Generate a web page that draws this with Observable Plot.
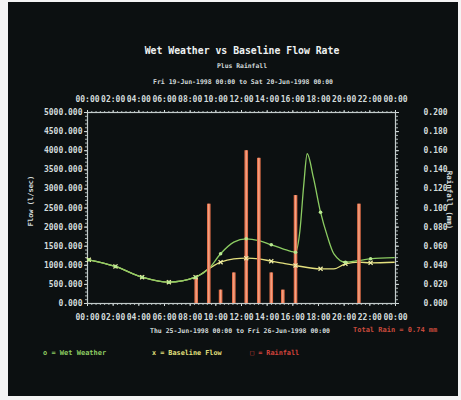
<!DOCTYPE html>
<html>
<head>
<meta charset="utf-8">
<script src="https://cdn.jsdelivr.net/npm/d3@7"></script>
<script src="https://cdn.jsdelivr.net/npm/@observablehq/plot@0.6"></script>
<style>
  html, body { margin: 0; padding: 0; background: #f4f4f4; width: 461px; height: 400px; overflow: hidden; }
  #bg { position: absolute; left: 8px; top: 2px; right: 3px; bottom: 4px; background: #0c1011; }
  #chart { position: absolute; left: 0; top: 0; }
</style>
</head>
<body>
<div id="bg"></div>
<div id="chart"></div>
<script>
// ---- data (hours since 00:00) ----
const wetHours  = [0.1, 2.18, 4.26, 6.34, 8.42, 9.45, 10.37, 11.4, 12.37, 13.35, 14.32, 15.22, 16.21, 16.55, 16.85, 17.12, 17.6, 18.16, 18.7, 19.2, 20.1, 21.15, 22.06, 23.9];
const wetFlow   = [1144, 969, 688, 558, 688, 908, 1301, 1605, 1694, 1649, 1537, 1432, 1343, 1900, 3100, 3920, 3300, 2390, 1750, 1301, 1081, 1126, 1170, 1200];
const baseHours = [0.1, 2.18, 4.26, 6.34, 8.42, 9.45, 10.37, 11.4, 12.37, 13.35, 14.32, 15.22, 16.21, 18.16, 19.2, 20.1, 21.15, 22.06, 23.9];
const baseFlow  = [1144, 969, 688, 558, 688, 908, 1081, 1170, 1186, 1170, 1107, 1055, 995, 908, 908, 1039, 1081, 1065, 1080];
const rainHours = [8.47, 9.45, 10.37, 11.4, 12.37, 13.35, 14.32, 15.22, 16.21, 21.15];
const rainMM    = [0.027, 0.104, 0.014, 0.032, 0.160, 0.152, 0.032, 0.014, 0.113, 0.104];
const flowTicks = [0, 500, 1000, 1500, 2000, 2500, 3000, 3500, 4000, 4500, 5000];
const rainTicks = [0, 0.02, 0.04, 0.06, 0.08, 0.10, 0.12, 0.14, 0.16, 0.18, 0.20];
const hourTicks = [0, 2, 4, 6, 8, 10, 12, 14, 16, 18, 20, 22, 24];
const wetMarkerHours  = [0.1, 2.18, 4.26, 6.34, 8.42, 10.37, 12.37, 14.32, 16.21, 18.16, 20.1, 22.06];
const baseMarkerHours = [0.1, 2.18, 4.26, 6.34, 8.42, 10.37, 12.37, 14.32, 16.21, 18.16, 20.1, 22.06];

const RAIN_TO_FLOW = 5000 / 0.20;   // right axis maps 0..0.20 onto 0..5000
const wet  = wetHours.map((h, i) => ({h, v: wetFlow[i]}));
const base = baseHours.map((h, i) => ({h, v: baseFlow[i]}));
const rain = rainHours.map((h, i) => ({h, r: rainMM[i]}));
const wetMarks  = wet.filter(d => wetMarkerHours.includes(d.h));
const baseMarks = base.filter(d => baseMarkerHours.includes(d.h));
const fmtHour = h => String(h % 24).padStart(2, "0") + ":00";

const GREEN = "#8ccc62", YELLOW = "#e4e07e", RED = "#e4704a", TXT = "#d3dbdb";
const minorX = d3.range(0, 24.001, 1/3);
const minorY = d3.range(0, 5000.1, 100);

const svg = Plot.plot({
  width: 461, height: 400,
  marginLeft: 87, marginRight: 66, marginTop: 112, marginBottom: 97,
  style: {background: "transparent", color: TXT, fontFamily: "DejaVu Sans Mono", fontSize: "8px", fontWeight: "bold"},
  x: {domain: [0, 24], label: null},
  y: {domain: [0, 5000], label: null},
  marks: [
    Plot.axisX({anchor: "top", ticks: minorX, tickSize: 2, tickFormat: () => "", stroke: "#aab4b4", label: null}),
    Plot.axisX({anchor: "bottom", ticks: minorX, tickSize: 2, tickFormat: () => "", stroke: "#aab4b4", label: null}),
    Plot.axisY({anchor: "left", ticks: minorY, tickSize: 2, tickFormat: () => "", stroke: "#aab4b4", label: null}),
    Plot.axisY({anchor: "right", ticks: minorY, tickSize: 2, tickFormat: () => "", stroke: "#aab4b4", label: null}),
    Plot.axisX({anchor: "top", ticks: hourTicks, tickFormat: fmtHour, tickSize: 3, tickPadding: 8, label: null}),
    Plot.axisX({anchor: "bottom", ticks: hourTicks, tickFormat: fmtHour, tickSize: 3, tickPadding: 8, label: null}),
    Plot.axisY({anchor: "left", ticks: flowTicks, tickFormat: d => d.toFixed(3), tickSize: 3, tickPadding: 2, label: null}),
    Plot.axisY({anchor: "right", ticks: rainTicks.map(r => r * RAIN_TO_FLOW), tickFormat: d => (d / RAIN_TO_FLOW).toFixed(3), tickSize: 3, tickPadding: 25, label: null}),
    Plot.frame({stroke: "#c4cccc", strokeWidth: 1.2}),
    Plot.line(base, {x: "h", y: "v", stroke: YELLOW, strokeWidth: 1.3, curve: "monotone-x"}),
    Plot.line(wet, {x: "h", y: "v", stroke: GREEN, strokeWidth: 1.3, curve: "monotone-x"}),
    Plot.ruleX(rain, {x: "h", y1: 0, y2: d => d.r * RAIN_TO_FLOW, stroke: RED, strokeWidth: 3.6}),
    Plot.ruleX(rain, {x: "h", y1: 0, y2: d => d.r * RAIN_TO_FLOW, stroke: "#f4a688", strokeWidth: 1.3}),
    Plot.dot(baseMarks, {x: "h", y: "v", symbol: "times", r: 2, stroke: "#f2f0a8", strokeWidth: 1.2}),
    Plot.dot(wetMarks, {x: "h", y: "v", r: 1.8, fill: "#b8e890", stroke: "none"})
  ]
});
document.getElementById("chart").appendChild(svg);

const s = d3.select(svg);
function addText(x, y, str, opts = {}) {
  const t = s.append("text")
    .attr("x", x).attr("y", y)
    .attr("text-anchor", opts.anchor || "middle")
    .attr("dominant-baseline", "central")
    .attr("font-family", "DejaVu Sans Mono")
    .attr("font-weight", "bold")
    .attr("font-size", opts.size || 7)
    .attr("fill", opts.fill || TXT)
    .text(str);
  if (opts.rotate) t.attr("transform", `rotate(${opts.rotate},${x},${y})`);
  return t;
}
addText(242, 50, "Wet Weather vs Baseline Flow Rate", {size: 9.8, fill: "#eef2f2"});
addText(242, 66, "Plus Rainfall", {size: 6.4});
addText(243, 82, "Fri 19-Jun-1998 00:00 to Sat 20-Jun-1998 00:00", {size: 6.5});
addText(240, 331, "Thu 25-Jun-1998 00:00 to Fri 26-Jun-1998 00:00", {size: 6.5});
addText(353, 330, "Total Rain = 0.74 mm", {size: 7, anchor: "start", fill: "#c84a3c"});
addText(31, 201, "Flow (l/sec)", {size: 7, rotate: -90});
addText(449, 200, "Rainfall (mm)", {size: 7.5, rotate: 90});
addText(43, 353, "o = Wet Weather", {size: 7, anchor: "start", fill: GREEN});
addText(152, 353, "x = Baseline Flow", {size: 6.8, anchor: "start", fill: YELLOW});
addText(250, 353, "\u25A1 = Rainfall", {size: 6.8, anchor: "start", fill: "#d4443c"});
</script>
</body>
</html>
